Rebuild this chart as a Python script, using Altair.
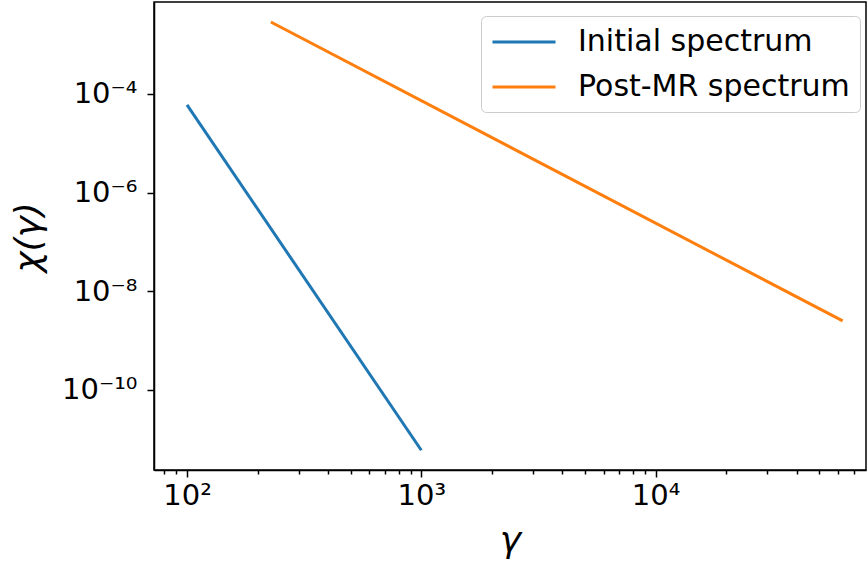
import altair as alt
import pandas as pd
import math

# Data (log-log straight spectra, endpoints)
series_names = ["Initial spectrum", "Post-MR spectrum"]
initial_gamma = [100, 1000]
initial_chi = [6.0e-5, 6.0e-12]
post_gamma = [228, 62900]
post_chi = [2.88e-3, 2.51e-9]

colors = ["#1f77b4", "#ff7f0e"]

x_domain = [72.3, 79100]
y_domain = [2.39e-12, 7.31e-3]

x_major = [100, 1000, 10000]
x_major_labels = ["10²", "10³", "10⁴"]
x_minor = [80, 90,
           200, 300, 400, 500, 600, 700, 800, 900,
           2000, 3000, 4000, 5000, 6000, 7000, 8000, 9000,
           20000, 30000, 40000, 50000, 60000, 70000]
y_major = [1e-4, 1e-6, 1e-8, 1e-10]
y_major_labels = ["10⁻⁴", "10⁻⁶", "10⁻⁸", "10⁻¹⁰"]

rows = []
for g, c in zip(initial_gamma, initial_chi):
    rows.append({"gamma": g, "chi": c, "series": series_names[0]})
for g, c in zip(post_gamma, post_chi):
    rows.append({"gamma": g, "chi": c, "series": series_names[1]})
df = pd.DataFrame(rows)


def label_expr(values, labels):
    expr = "''"
    for v, l in reversed(list(zip(values, labels))):
        expr = f"abs(log(datum.value)/LN10 - ({math.log10(v)})) < 1e-6 ? '{l}' : {expr}"
    return expr


FONT = "DejaVu Sans"

x_axis = alt.Axis(
    values=sorted(x_major + x_minor),
    labelExpr=label_expr(x_major, x_major_labels),
    tickSize={"condition": {"test": "abs(log(datum.value)/LN10 - round(log(datum.value)/LN10)) < 1e-6", "value": 7}, "value": 4},
    labelFontSize=29, labelFont=FONT, labelColor="black",
    labelPadding=4, labelOverlap=False, labelFlush=False,
    title="γ", titleFont=FONT, titleFontSize=36, titleFontStyle="italic",
    titleFontWeight="normal", titleColor="black",
    titleX=356, titleY=81, titleBaseline="alphabetic", titleAlign="center",
    grid=False, domainColor="black", domainWidth=1.5,
    tickColor="black", tickWidth=1.5,
)

y_axis = alt.Axis(
    values=y_major,
    labelExpr=label_expr(y_major, y_major_labels),
    tickSize=7,
    labelFontSize=29, labelFont=FONT, labelColor="black",
    labelPadding=10, labelOverlap=False, labelFlush=False,
    title="χ(γ)", titleFont=FONT, titleFontSize=36, titleFontStyle="italic",
    titleFontWeight="normal", titleColor="black",
    titleX=-126, titleY=235, titleBaseline="middle", titleAlign="center", titleAngle=270,
    grid=False, domainColor="black", domainWidth=1.5,
    tickColor="black", tickWidth=1.5,
)

chart = alt.Chart(df).mark_line(strokeWidth=3, clip=True).encode(
    x=alt.X("gamma:Q", scale=alt.Scale(type="log", domain=x_domain, nice=False), axis=x_axis),
    y=alt.Y("chi:Q", scale=alt.Scale(type="log", domain=y_domain, nice=False), axis=y_axis),
    color=alt.Color(
        "series:N",
        scale=alt.Scale(domain=series_names, range=colors),
        legend=alt.Legend(
            title=None, orient="none", legendX=327, legendY=14,
            symbolType="M-1,0H3.345", symbolSize=841, symbolStrokeWidth=3,
            labelFont=FONT, labelFontSize=30, labelColor="black", labelOffset=55,
            padding=10, rowPadding=14, fillColor="white", strokeColor="#cccccc",
            cornerRadius=5, labelLimit=400,
        ),
    ),
    detail="series:N",
).properties(
    width=712, height=468,
    background="white",
    autosize=alt.AutoSizeParams(type="none"),
    padding={"left": 154, "top": 2, "right": 1, "bottom": 93},
).configure_view(stroke="black", strokeWidth=1.5)

chart.save("out.html", embed_options={"renderer": "svg", "actions": False})
